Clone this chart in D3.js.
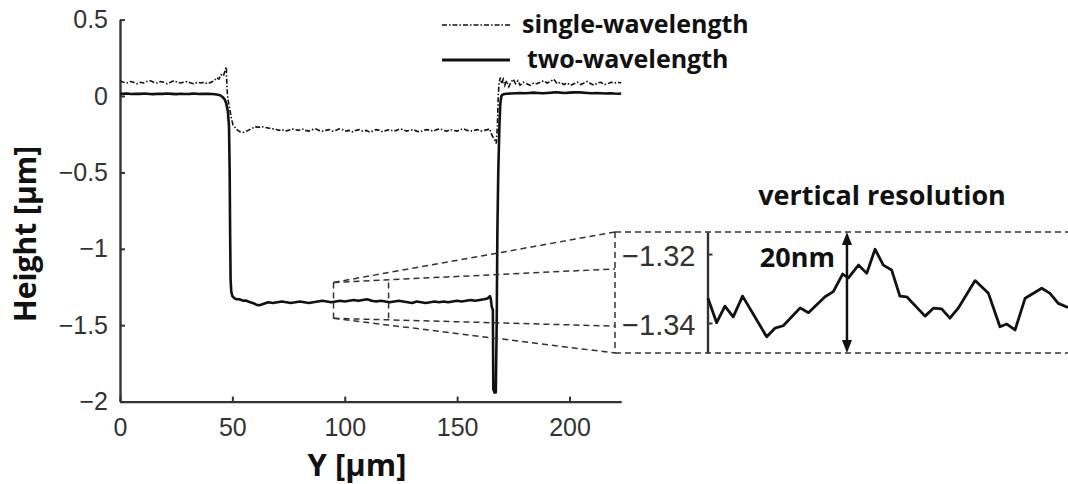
<!DOCTYPE html>
<html>
<head>
<meta charset="utf-8">
<script src="https://cdn.jsdelivr.net/npm/d3@7"></script>
<style>
  body { margin: 0; background: #fff; }
  .tick text { font-family: "Liberation Sans", Arial, sans-serif; fill: #333; }
  .bold { font-family: "Open Sans", "DejaVu Sans", sans-serif; font-weight: 700; fill: #111; }
</style>
</head>
<body>
<svg id="chart" width="1068" height="484"></svg>
<script>
// 两个波长的剖面 (solid)
const twoX = [0, 1, 3, 5, 7, 9, 11, 13, 15, 17, 19, 21, 23, 25, 27, 29, 31, 33, 35, 37, 39, 41, 43, 44.5, 45.5, 46.5, 47.3, 48, 48.5, 48.8, 49, 49.2, 49.5, 50,
  51, 52, 53, 54, 55, 56, 57, 58, 59, 60, 61, 62, 63, 64, 65, 66, 68, 70, 72, 74, 76, 78, 80, 82, 84, 86, 88, 90, 92, 94, 96, 98, 100,
  102, 104, 106, 108, 110, 112, 114, 116, 118, 120, 122, 124, 126, 128, 130, 132, 134, 136, 138, 140, 142, 144, 146, 148, 150, 152, 154,
  156, 158, 160, 162, 163.5, 164.6, 165, 165.4, 165.9, 166.1, 166.6, 167.2, 167.6, 167.9, 168.3, 168.8, 169.2, 169.7, 170.5, 172, 174,
  176, 178, 180, 182, 184, 186, 188, 190, 192, 194, 196, 198, 200, 202, 204, 206, 208, 210, 212, 214, 216, 218, 220, 222, 223];
const twoY = [0.015, 0.014, 0.016, 0.013, 0.015, 0.014, 0.016, 0.013, 0.012, 0.015, 0.014, 0.016, 0.014, 0.012, 0.015, 0.013, 0.014, 0.016, 0.013, 0.014, 0.015, 0.013, 0.010, 0.005, -0.005, -0.02, -0.05, -0.10, -0.2, -0.5, -0.9, -1.2, -1.28, -1.31,
  -1.325, -1.33, -1.33, -1.335, -1.34, -1.338, -1.345, -1.35, -1.355, -1.36, -1.368, -1.37, -1.365, -1.36, -1.355, -1.35, -1.355, -1.35, -1.345, -1.35, -1.355, -1.35, -1.345, -1.35, -1.355, -1.35, -1.345, -1.34, -1.345, -1.35, -1.345, -1.34, -1.345,
  -1.34, -1.335, -1.34, -1.335, -1.33, -1.34, -1.345, -1.34, -1.345, -1.35, -1.345, -1.34, -1.345, -1.35, -1.355, -1.345, -1.35, -1.355, -1.35, -1.345, -1.35, -1.345, -1.35, -1.345, -1.34, -1.345, -1.34,
  -1.335, -1.34, -1.335, -1.33, -1.325, -1.31, -1.33, -1.38, -1.40, -1.92, -1.94, -1.94, -1.5, -0.9, -0.5, -0.2, -0.05, 0.0, 0.012, 0.015, 0.016,
  0.018, 0.02, 0.018, 0.02, 0.022, 0.02, 0.018, 0.02, 0.022, 0.025, 0.022, 0.02, 0.022, 0.024, 0.025, 0.022, 0.02, 0.018, 0.02, 0.018, 0.016, 0.018, 0.016, 0.015, 0.016];

// 单波长剖面 (dash-dot)
const singleX = [0, 1.5, 3, 4.5, 6, 7.5, 9, 10.5, 12, 13.5, 15, 16.5, 18, 19.5, 21, 22.5, 24, 25.5, 27, 28.5, 30, 31.5, 33, 34.5, 36, 37.5, 39, 40.5,
  42, 43, 44, 45, 46, 46.8, 47.3, 47.6, 48, 48.5, 49, 49.6, 50.3, 51, 51.6, 52.5, 53.5, 54.5, 55.5, 57, 58.5, 60, 61.5, 63, 64.5, 66, 67.5,
  69, 70.5, 72, 73.5, 75, 76.5, 78, 79.5, 81, 82.5, 84, 85.5, 87, 88.5, 90, 91.5, 93, 94.5, 96, 97.5, 99, 100.5, 102, 103.5, 105, 106.5,
  108, 109.5, 111, 112.5, 114, 115.5, 117, 118.5, 120, 121.5, 123, 124.5, 126, 127.5, 129, 130.5, 132, 133.5, 135, 136.5, 138, 139.5,
  141, 142.5, 144, 145.5, 147, 148.5, 150, 151.5, 153, 154.5, 156, 157.5, 159, 160.5, 162, 163.5, 164.5, 165.3, 166, 166.8, 167.4,
  167.9, 168.3, 168.7, 169.2, 169.8, 170.5, 171.2, 172, 173, 174, 175, 176, 177, 178, 179.5, 181, 182.5, 184, 185.5, 187, 188.5, 190,
  191.5, 193, 194.5, 196, 197.5, 199, 200.5, 202, 203.5, 205, 206.5, 208, 209.5, 211, 212.5, 214, 215.5, 217, 218.5, 220, 221.5, 223];
const singleY = [0.10, 0.09, 0.085, 0.095, 0.09, 0.08, 0.09, 0.085, 0.095, 0.10, 0.09, 0.085, 0.095, 0.09, 0.08, 0.09, 0.10, 0.09, 0.085, 0.09, 0.095, 0.085, 0.08, 0.09, 0.085, 0.09, 0.08, 0.09,
  0.10, 0.12, 0.11, 0.14, 0.13, 0.17, 0.19, 0.05, -0.02, -0.06, -0.10, -0.15, -0.19, -0.20, -0.215, -0.225, -0.235, -0.24, -0.235, -0.225, -0.215, -0.20, -0.205, -0.20, -0.205, -0.21, -0.215,
  -0.215, -0.225, -0.22, -0.23, -0.225, -0.215, -0.22, -0.225, -0.215, -0.225, -0.23, -0.22, -0.215, -0.225, -0.23, -0.225, -0.22, -0.23, -0.225, -0.215, -0.22, -0.23, -0.225, -0.235, -0.225, -0.22,
  -0.23, -0.225, -0.235, -0.23, -0.22, -0.225, -0.235, -0.225, -0.22, -0.23, -0.225, -0.215, -0.22, -0.23, -0.225, -0.22, -0.23, -0.235, -0.225, -0.22, -0.225, -0.23,
  -0.22, -0.215, -0.225, -0.23, -0.22, -0.225, -0.23, -0.22, -0.215, -0.225, -0.23, -0.225, -0.22, -0.23, -0.225, -0.22, -0.215, -0.25, -0.27, -0.29, -0.31,
  -0.20, 0.0, 0.09, 0.12, 0.08, 0.11, 0.07, 0.10, 0.06, 0.09, 0.11, 0.08, 0.10, 0.07, 0.09, 0.08, 0.07, 0.085, 0.08, 0.09, 0.10, 0.085,
  0.095, 0.11, 0.08, 0.09, 0.075, 0.085, 0.07, 0.08, 0.09, 0.075, 0.085, 0.095, 0.08, 0.07, 0.085, 0.09, 0.075, 0.08, 0.09, 0.085, 0.09, 0.085];

// 放大图 (inset)
const insetX = [95.0, 95.24, 95.47, 95.70, 95.96, 96.63, 96.86, 97.09, 97.56, 97.79, 98.25, 98.48, 98.74, 98.90, 99.18, 99.41, 99.64, 99.87,
  100.10, 100.33, 100.52, 101.03, 101.26, 101.49, 101.72, 101.95, 102.42, 102.79, 103.11, 103.30, 103.53, 103.81, 104.27, 104.5, 104.73, 105.0];
const insetY = [-1.3328, -1.3399, -1.3351, -1.3382, -1.3322, -1.3440, -1.3415, -1.3408, -1.3356, -1.3370, -1.3324, -1.3309, -1.3258, -1.3269,
  -1.3232, -1.3256, -1.3186, -1.3232, -1.3246, -1.3322, -1.3324, -1.3380, -1.3357, -1.3359, -1.3386, -1.3357, -1.3277, -1.3314, -1.3411,
  -1.3403, -1.3420, -1.3328, -1.3299, -1.3314, -1.3343, -1.3355];

const xTicks = [0, 50, 100, 150, 200];
const xTickLabels = ["0", "50", "100", "150", "200"];
const yTicks = [-2, -1.5, -1, -0.5, 0, 0.5];
const yTickLabels = ["−2", "−1.5", "−1", "−0.5", "0", "0.5"];
const insetTicks = [-1.34, -1.32];
const insetTickLabels = ["−1.34", "−1.32"];
const seriesNames = ["single-wavelength", "two-wavelength"];

// 放大框 (zoom box, data units)
const zoomBoxX = [95, 119.5];
const zoomBoxY = [-1.455, -1.22];
const insetGuideY = [-1.3409, -1.3243];
const arrowAt = 98.86;

const svg = d3.select("#chart");

const x = d3.scaleLinear().domain([0, 223]).range([120, 621.2]);
const y = d3.scaleLinear().domain([-2, 0.5]).range([401.6, 19.6]);

// inset scales
const ix = d3.scaleLinear().domain([95, 105]).range([708, 1068]);
const iy = d3.scaleLinear().domain([-1.3487, -1.3136]).range([353, 232]);
const insetLeft = 615;

// 坐标轴
const gx = svg.append("g")
    .attr("transform", "translate(0," + y(-2) + ")")
    .call(d3.axisBottom(x).tickValues(xTicks)
        .tickFormat((d, i) => xTickLabels[i])
        .tickSize(-5).tickSizeOuter(0).tickPadding(17));
const gy = svg.append("g")
    .attr("transform", "translate(" + x(0) + ",0)")
    .call(d3.axisLeft(y).tickValues(yTicks)
        .tickFormat((d, i) => yTickLabels[i])
        .tickSize(-5).tickSizeOuter(0).tickPadding(12));
[gx, gy].forEach(function (g) {
    g.select(".domain").attr("stroke", "#333").attr("stroke-width", 2.4);
    g.selectAll(".tick line").attr("stroke", "#333").attr("stroke-width", 2);
    g.selectAll(".tick text").attr("font-size", 25).attr("fill", "#333");
});

const line = d3.line().x(d => x(d[0])).y(d => y(d[1]));

// 单波长
svg.append("path")
    .datum(d3.zip(singleX, singleY))
    .attr("fill", "none")
    .attr("stroke", "#111")
    .attr("stroke-width", 1.6)
    .attr("stroke-dasharray", "5,2,1.5,2")
    .attr("d", line);

// 双波长
svg.append("path")
    .datum(d3.zip(twoX, twoY))
    .attr("fill", "none")
    .attr("stroke", "#111")
    .attr("stroke-width", 2.6)
    .attr("stroke-linejoin", "round")
    .attr("d", line);

// 轴标签
svg.append("text")
    .attr("class", "bold")
    .attr("transform", "translate(36," + 234 + ") rotate(-90)")
    .attr("text-anchor", "middle")
    .attr("font-size", 30)
    .text("Height [µm]");
svg.append("text")
    .attr("class", "bold")
    .attr("x", 357).attr("y", 476)
    .attr("text-anchor", "middle")
    .attr("font-size", 31)
    .text("Y [µm]");

// 图例
const legend = svg.append("g");
legend.selectAll("line")
    .data(seriesNames)
    .enter()
    .append("line")
    .attr("x1", 442).attr("x2", 510)
    .attr("y1", (d, i) => 25 + i * 35).attr("y2", (d, i) => 25 + i * 35)
    .attr("stroke", "#111")
    .attr("stroke-width", (d, i) => i === 0 ? 1.4 : 3)
    .attr("stroke-dasharray", (d, i) => i === 0 ? "5,2,1.5,2" : null);
legend.selectAll("text")
    .data(seriesNames)
    .enter()
    .append("text")
    .attr("class", "bold")
    .attr("x", (d, i) => i === 0 ? 522 : 527)
    .attr("y", (d, i) => 33 + i * 35)
    .attr("font-size", 25)
    .text(d => d);

// 放大框和引导线
const dash = "6,4";
const guides = svg.append("g")
    .attr("fill", "none")
    .attr("stroke", "#333")
    .attr("stroke-width", 1.5)
    .attr("stroke-dasharray", dash);
const bx0 = x(zoomBoxX[0]), bx1 = x(zoomBoxX[1]);
const byTop = y(zoomBoxY[1]), byBot = y(zoomBoxY[0]);
guides.append("line").attr("x1", bx0).attr("y1", byTop).attr("x2", bx0).attr("y2", byBot);
guides.append("line").attr("x1", bx1).attr("y1", byTop).attr("x2", bx1).attr("y2", byBot);
guides.append("line").attr("x1", bx0).attr("y1", byTop).attr("x2", insetLeft).attr("y2", iy.range()[1]);
guides.append("line").attr("x1", bx0).attr("y1", byTop).attr("x2", insetLeft).attr("y2", iy(insetGuideY[1]));
guides.append("line").attr("x1", bx0).attr("y1", byBot).attr("x2", insetLeft).attr("y2", iy(insetGuideY[0]));
guides.append("line").attr("x1", bx0).attr("y1", byBot).attr("x2", insetLeft).attr("y2", iy.range()[0]);
// inset frame
guides.append("line").attr("x1", insetLeft).attr("y1", iy.range()[1]).attr("x2", insetLeft).attr("y2", iy.range()[0]);
guides.append("line").attr("x1", insetLeft).attr("y1", iy.range()[1]).attr("x2", 1068).attr("y2", iy.range()[1]);
guides.append("line").attr("x1", insetLeft).attr("y1", iy.range()[0]).attr("x2", 1068).attr("y2", iy.range()[0]);

// inset 坐标轴
const giy = svg.append("g")
    .attr("transform", "translate(" + (ix(95) - 0.5) + ",0)")
    .call(d3.axisLeft(iy).tickValues(insetTicks)
        .tickFormat((d, i) => insetTickLabels[i])
        .tickSize(-5).tickSizeOuter(0).tickPadding(12));
giy.select(".domain").attr("stroke", "#333").attr("stroke-width", 2.4);
giy.selectAll(".tick line").attr("stroke", "#333").attr("stroke-width", 2);
giy.selectAll(".tick text").attr("font-size", 29).attr("fill", "#333").attr("dy", "0.4em");

// inset 曲线
svg.append("path")
    .datum(d3.zip(insetX, insetY))
    .attr("fill", "none")
    .attr("stroke", "#111")
    .attr("stroke-width", 2.8)
    .attr("stroke-linejoin", "round")
    .attr("d", d3.line().x(d => ix(d[0])).y(d => iy(d[1])));

// 双向箭头
const ax = ix(arrowAt);
const aTop = iy.range()[1], aBot = iy.range()[0];
svg.append("line")
    .attr("x1", ax).attr("x2", ax)
    .attr("y1", aTop + 10).attr("y2", aBot - 10)
    .attr("stroke", "#111").attr("stroke-width", 2.5);
svg.append("path")
    .attr("d", "M" + ax + "," + aTop + "L" + (ax - 5) + "," + (aTop + 13) + "L" + (ax + 5) + "," + (aTop + 13) + "Z" +
        "M" + ax + "," + aBot + "L" + (ax - 5) + "," + (aBot - 13) + "L" + (ax + 5) + "," + (aBot - 13) + "Z")
    .attr("fill", "#111");

svg.append("text")
    .attr("class", "bold")
    .attr("x", 835).attr("y", 267)
    .attr("text-anchor", "end")
    .attr("font-size", 27)
    .text("20nm");
svg.append("text")
    .attr("class", "bold")
    .attr("x", 882).attr("y", 205)
    .attr("text-anchor", "middle")
    .attr("font-size", 27)
    .text("vertical resolution");
</script>
</body>
</html>
